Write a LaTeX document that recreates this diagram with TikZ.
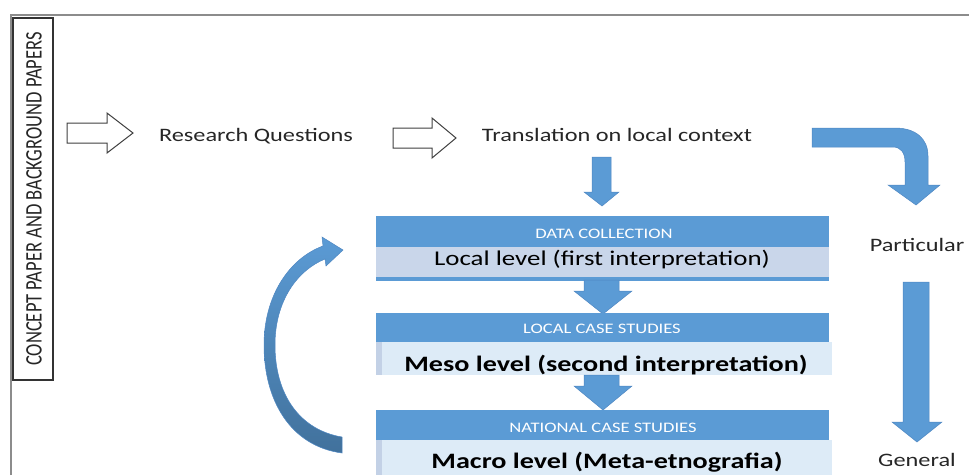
\documentclass[tikz,border=0pt]{standalone}
\usepackage{fontspec}
\setmainfont{Carlito}[FakeStretch=1.28]
\newfontfamily\sidefont{Carlito}
\usetikzlibrary{calc}

\definecolor{hdrblue}{HTML}{5B9BD5}
\definecolor{arrowedge}{HTML}{4F87C2}
\definecolor{darkblue}{HTML}{41719C}
\definecolor{bandgray}{HTML}{C9D6EA}
\definecolor{bandlight}{HTML}{DDEBF7}
\definecolor{stripgray}{HTML}{C3D1E6}
\definecolor{framegray}{HTML}{8C8C8C}
\definecolor{txtgray}{HTML}{262626}

\begin{document}
\begin{tikzpicture}[x=1pt, y=-1pt,
    lbl/.style={font=\fontsize{19}{22}\selectfont, text=txtgray, inner sep=0pt, anchor=base},
    hdrtxt/.style={font=\fontsize{14.5}{17}\selectfont, text=white, inner sep=0pt, anchor=base},
    lvltxt/.style={font=\fontsize{21}{25}\selectfont, text=black, inner sep=0pt, anchor=base},
    bigtxt/.style={font=\bfseries\fontsize{22}{26}\selectfont, text=black, inner sep=0pt, anchor=base},
    hollow/.style={draw=black!75, line width=1pt, fill=white},
    bluearrow/.style={fill=hdrblue, draw=arrowedge, line width=0.5pt}]
  \useasboundingbox (0,0) rectangle (969,475);
  % Frame
  \draw[framegray, line width=1.2pt] (11,475) -- (11,15) -- (969,15);
  % Side box
  \draw[black!80, line width=1.1pt, fill=white] (13,18) rectangle (53,380);
  \node[rotate=90, inner sep=0pt, text=txtgray] (side) at (34,199)
    {\scalebox{1}[1.28]{\sidefont\fontsize{18.5}{22}\selectfont CONCEPT PAPER AND BACKGROUND PAPERS}};
  % Top row
  \draw[hollow] (67,123) -- (107,123) -- (107,113) -- (133,133) -- (107,153) -- (107,143) -- (67,143) -- cycle;
  \node[lbl] (rq) at (256,141) {Research Questions};
  \draw[hollow] (393,128) -- (432,128) -- (432,118) -- (456,138) -- (432,158) -- (432,148) -- (393,148) -- cycle;
  \node[lbl] (tl) at (617,141) {Translation on local context};
  \draw[bluearrow] (592,157) -- (611,157) -- (611,192) -- (619,192) -- (602,206) -- (584,192) -- (592,192) -- cycle;
  % Bent arrow
  \draw[bluearrow] (812,128) -- (895,128) .. controls (915,128) and (928,138) .. (928,156)
    -- (928,185) -- (940,185) -- (916,205) -- (888,185) -- (905,185) -- (905,162)
    .. controls (905,153) and (901,147) .. (893,147) -- (812,147) -- cycle;
  % Data collection block
  \fill[hdrblue] (376,216) rectangle (829,247);
  \fill[bandgray] (376,247) rectangle (829,277);
  \fill[hdrblue] (376,277) rectangle (829,281);
  \node[hdrtxt] (dc) at (604,238) {DATA COLLECTION};
  \node[lvltxt] (ll) at (602,265) {Local level (first interpretation)};
  \draw[bluearrow] (584,280) -- (619,280) -- (619,291) -- (632,291) -- (603,314) -- (574,291) -- (584,291) -- cycle;
  % Local case studies block
  \fill[hdrblue] (376,313) rectangle (829,342);
  \fill[stripgray] (376,342) rectangle (382,375);
  \fill[bandlight] (382,342) rectangle (832,375);
  \node[hdrtxt] (lcs) at (602,333) {LOCAL CASE STUDIES};
  \node[bigtxt] (ml) at (606,371) {Meso level (second interpretation)};
  \draw[bluearrow] (584,375) -- (619,375) -- (619,386) -- (632,386) -- (603,410) -- (574,386) -- (584,386) -- cycle;
  % National case studies block
  \fill[hdrblue] (376,410) rectangle (829,440);
  \fill[stripgray] (376,440) rectangle (382,475);
  \fill[bandlight] (382,440) rectangle (832,475);
  \node[hdrtxt] (ncs) at (603,432) {NATIONAL CASE STUDIES};
  \node[bigtxt] (mc) at (607,468.5) {Macro level (Meta-etnografia)};
  % Loop arrow
  \draw[top color=hdrblue, bottom color=darkblue, draw=arrowedge, line width=0.5pt]
    (342,453) .. controls (290,446) and (264,400) .. (264,345)
    .. controls (264,295) and (290,258) .. (323,246) -- (322,237) -- (343,250) -- (326,266) -- (325,259)
    .. controls (298,270) and (275,300) .. (275,345)
    .. controls (275,395) and (300,430) .. (342,437) -- cycle;
  % Particular to general
  \node[lbl, text=black!85] (pt) at (917,251) {Particular};
  \draw[bluearrow] (903,282) -- (929,282) -- (929,422) -- (942,422) -- (917,442) -- (892,422) -- (903,422) -- cycle;
  \node[lbl, text=black!85] (gn) at (917,466) {General};
\end{tikzpicture}
\end{document}
